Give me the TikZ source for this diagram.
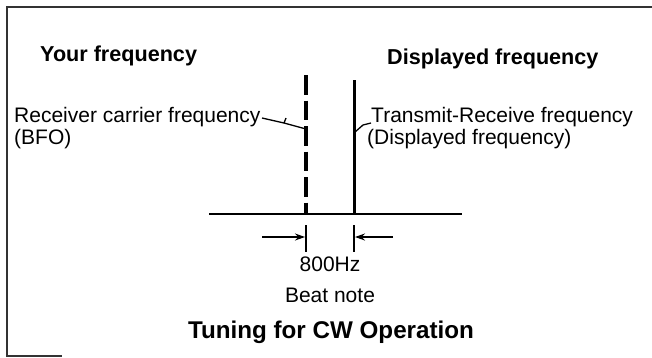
\documentclass[tikz,border=0pt]{standalone}
\usepackage{fontspec}
\setmainfont{Liberation Sans}
\usetikzlibrary{arrows.meta}
\begin{document}
\begin{tikzpicture}[x=1pt,y=-1pt,
  reg/.style={font=\fontsize{21}{23}\selectfont, inner sep=0pt},
  hdr/.style={font=\fontsize{21.6}{24}\selectfont\bfseries, inner sep=0pt},
  ttl/.style={font=\fontsize{24.2}{26}\selectfont\bfseries, inner sep=0pt},
  frameline/.style={line width=1.8pt, black!80},
  freqline/.style={line width=3.2pt},
  leader/.style={line width=1.3pt},
  dimarrow/.style={line width=1.4pt, -{Stealth[length=10pt,width=7pt]}}]
\useasboundingbox (0,0) rectangle (652,357);
% frame (partial, as scanned)
\coordinate (fTR) at (652,7);
\coordinate (fTL) at (7,7);
\coordinate (fBL) at (7,356);
\coordinate (fBR) at (62,356);
\draw[frameline] (fTR) -- (fTL) -- (fBL) -- (fBR);
% headings
\node[hdr, anchor=west] (yf) at (40,56) {Your frequency};
\node[hdr, anchor=west] (df) at (387,59) {Displayed frequency};
% axis
\coordinate (axL) at (209,214);
\coordinate (axR) at (462,214);
\draw[line width=2.4pt] (axL) -- (axR);
% frequency lines
\coordinate (bfoTop) at (306,75);
\coordinate (bfoBot) at (306,214);
\coordinate (txTop) at (354.5,80);
\coordinate (txBot) at (354.5,214);
\draw[freqline, dash pattern=on 19.5pt off 6pt] (bfoTop) -- (bfoBot);
\draw[freqline] (txTop) -- (txBot);
% labels
\node[reg, anchor=base west] (rcf) at (14,122) {Receiver carrier frequency};
\node[reg, anchor=base west] (bfo) at (14,144) {(BFO)};
\node[reg, anchor=base west] (trf) at (371,122) {Transmit-Receive frequency};
\node[reg, anchor=base west] (dsp) at (367,144) {(Displayed frequency)};
% leaders
\coordinate (lS) at (262,118);
\coordinate (lK) at (284,123);
\coordinate (lA) at (306,129);
\coordinate (rA) at (355,132);
\coordinate (rK) at (363,125);
\coordinate (rS) at (371,123);
\draw[leader] (lS) -- (lK) -- (lA);
\draw[leader] (lK) -- ++(2,-5);
\draw[leader] (rA) -- (rK) -- (rS);
% dimension
\coordinate (tkL1) at (306,225);
\coordinate (tkL2) at (306,252);
\coordinate (tkR1) at (354,225);
\coordinate (tkR2) at (354,252);
\draw[line width=1.6pt] (tkL1) -- (tkL2);
\draw[line width=1.6pt] (tkR1) -- (tkR2);
\coordinate (arL) at (262,237);
\coordinate (arLe) at (305,237);
\coordinate (arR) at (393,237);
\coordinate (arRe) at (355,237);
\draw[dimarrow] (arL) -- (arLe);
\draw[dimarrow] (arR) -- (arRe);
\node[reg] (hz) at (330,264) {800Hz};
\node[reg] (beat) at (330,295) {Beat note};
\node[ttl] (title) at (331,332) {Tuning for CW Operation};
\end{tikzpicture}
\end{document}
